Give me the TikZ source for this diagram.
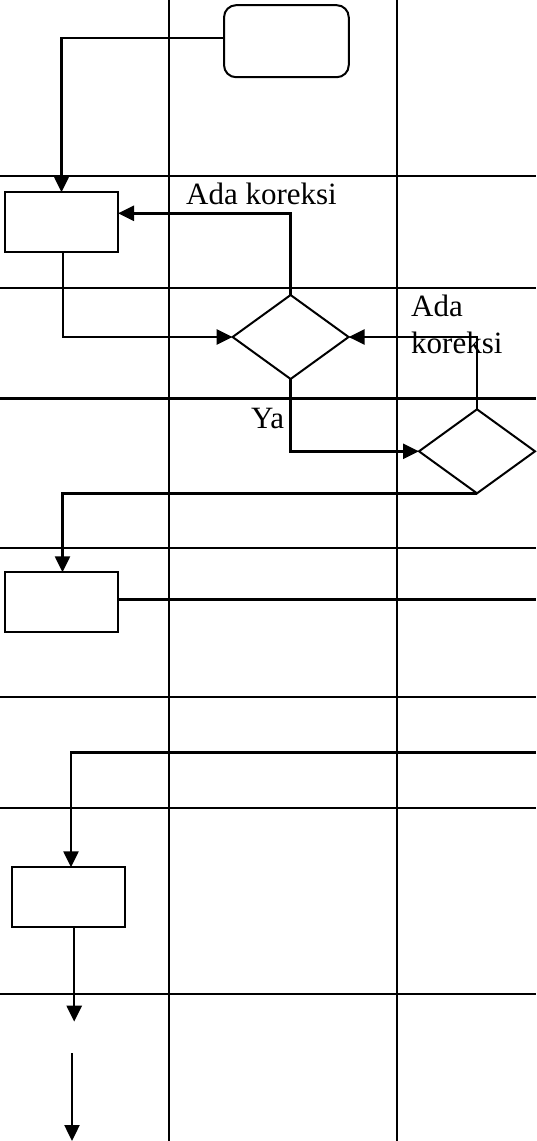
\documentclass[tikz,border=0pt]{standalone}
\usepackage{fontspec}
\setmainfont{Liberation Serif}
\usetikzlibrary{arrows.meta,shapes.geometric}
\begin{document}
\begin{tikzpicture}[x=1pt,y=-1pt,
  gridline/.style={line width=2.4pt},
  conn/.style={line width=2.4pt},
  arr/.style={conn,-{Triangle[length=16pt,width=15pt]}},
  proc/.style={draw,line width=2pt,minimum width=113pt,minimum height=60pt,inner sep=0pt,outer sep=0pt},
  term/.style={draw,line width=2pt,rounded corners=12pt,minimum width=124.7pt,minimum height=72pt,inner sep=0pt,outer sep=0pt},
  dec/.style={draw,diamond,line width=2pt,minimum width=116pt,minimum height=84pt,inner sep=0pt,outer sep=0pt},
  lbl/.style={inner sep=0pt,anchor=base west,font=\fontsize{31}{36}\selectfont}
]
\useasboundingbox (0,0) rectangle (536,1141);
% grid
\foreach \yy in {176,288,398.5,548,697,808,994}
  \draw[gridline] (0,\yy) -- (536,\yy);
\foreach \xx in {169,397}
  \draw[gridline] (\xx,0) -- (\xx,1141);
% nodes
\node[term] (start) at (286.4,41.2) {};
\node[proc] (box1) at (61.5,222.3) {};
\node[dec] (d1) at (290.6,337) {};
\node[dec] (d2) at (477,451.3) {};
\node[proc] (box2) at (61.5,602.3) {};
\node[proc] (box3) at (68.4,897.3) {};
\coordinate (e1) at (536,599.3);
\coordinate (e2) at (536,752.3);
\coordinate (c1) at (74.2,1021.7);
\coordinate (c2) at (72,1053.3);
\coordinate (c3) at (72,1141);
% labels
\node[lbl] (t1) at (186,204) {Ada koreksi};
\node[lbl] (t2a) at (411,316.7) {Ada};
\node[lbl] (t2b) at (411,353) {koreksi};
\node[lbl] (t3) at (251,428) {Ya};
% connectors
\draw[arr] ([yshift=3pt]start.west) -| (box1.north);
\draw[arr] (d1.north) |- ([yshift=9pt]box1.east);
\draw[arr] ([xshift=1.7pt]box1.south) |- (d1.west);
\draw[arr] (d2.north) |- (d1.east);
\draw[arr] (d1.south) |- (d2.west);
\draw[arr] (d2.south) -| ([xshift=1pt]box2.north);
\draw[conn] (box2.east |- e1) -- (e1);
\draw[arr] (e2) -| ([xshift=2.6pt]box3.north);
\draw[arr] ([xshift=5.8pt]box3.south) -- (c1);
\draw[arr] (c2) -- (c3);
\end{tikzpicture}
\end{document}
